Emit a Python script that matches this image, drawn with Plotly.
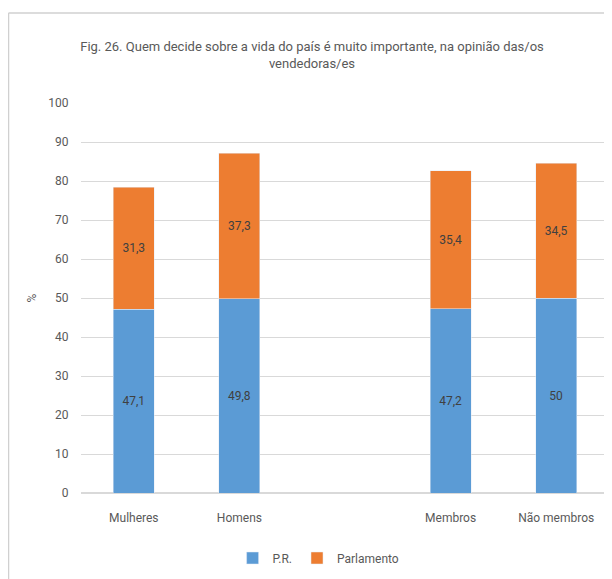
import plotly.graph_objects as go

categories = ["Mulheres", "Homens", " ", "Membros", "Não membros"]
pr_values = [47.1, 49.8, None, 47.2, 50]
parl_values = [31.3, 37.3, None, 35.4, 34.5]
pr_labels = ["47,1", "49,8", "", "47,2", "50"]
parl_labels = ["31,3", "37,3", "", "35,4", "34,5"]
y_ticks = [0, 10, 20, 30, 40, 50, 60, 70, 80, 90, 100]

FONT = "Roboto, Open Sans, sans-serif"
GRAY = "#595959"

fig = go.Figure()
fig.add_trace(go.Bar(
    x=categories, y=pr_values, name="P.R.", marker_color="#5B9BD5",
    text=pr_labels, textposition="inside", insidetextanchor="middle",
    textfont=dict(color="#404040", size=12, family=FONT),
))
fig.add_trace(go.Bar(
    x=categories, y=parl_values, name="Parlamento", marker_color="#ED7D31",
    text=parl_labels, textposition="inside", insidetextanchor="middle",
    textfont=dict(color="#404040", size=12, family=FONT),
))

# page body adds an 8px margin, so the figure is 8px smaller on each axis
W, H = 604, 571
L, R, T, B = 73, 3, 95, 86
pw, ph = W - L - R, H - T - B

fig.update_layout(
    barmode="stack",
    bargap=0.61,
    width=W, height=H,
    margin=dict(l=L, r=R, t=T, b=B, autoexpand=False),
    paper_bgcolor="white", plot_bgcolor="white",
    font=dict(family=FONT, color=GRAY, size=12),
    title=dict(
        text="Fig. 26. Quem decide sobre a vida do país é muito importante, na opinião das/os<br>vendedoras/es",
        x=304 / W, xref="container", xanchor="center", y=1 - 43 / H, yref="container",
        yanchor="middle",
        font=dict(size=13, color=GRAY, family=FONT),
    ),
    showlegend=True,
    legend=dict(orientation="h", x=0.45, xanchor="center", y=-(550 - (H - B)) / ph,
                yanchor="middle", font=dict(size=12, color=GRAY, family=FONT),
                itemwidth=30, traceorder="normal"),
    xaxis=dict(type="category", categoryorder="array", categoryarray=categories,
               showgrid=False, showline=True, linecolor="#D9D9D9",
               ticks="outside", ticklen=14, tickcolor="rgba(0,0,0,0)",
               tickfont=dict(size=12, color=GRAY)),
    yaxis=dict(range=[0, 100], tickvals=y_ticks, showgrid=True, gridcolor="#D9D9D9",
               zeroline=True, zerolinecolor="#D9D9D9", showline=False,
               ticks="outside", ticklen=9, tickcolor="rgba(0,0,0,0)",
               tickfont=dict(size=12, color=GRAY),
               title=dict(text="%", font=dict(size=12, color=GRAY), standoff=9)),
    uniformtext=dict(minsize=10, mode="show"),
)

# chart area border (left and top)
x_left = (0.5 - L) / pw
y_top = 1 + (T - 5) / ph
fig.add_shape(type="line", xref="paper", yref="paper", x0=x_left, x1=x_left,
              y0=-(H - T - ph) / ph - 0.05, y1=y_top, line=dict(color="#D0D0D0", width=1.5))
fig.add_shape(type="line", xref="paper", yref="paper", x0=x_left, x1=1 + R / pw,
              y0=y_top, y1=y_top, line=dict(color="#D0D0D0", width=1.5))

fig.write_html("out.html")
